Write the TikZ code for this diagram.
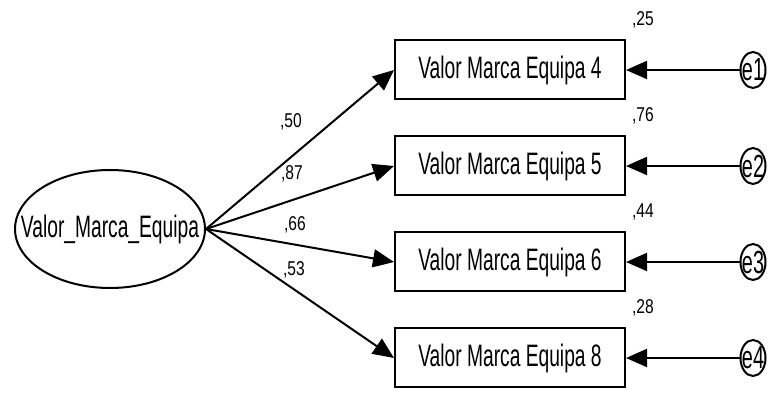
\documentclass[tikz,border=0pt]{standalone}
\usepackage{fontspec}
\usetikzlibrary{positioning,arrows.meta,shapes.geometric}
\newfontfamily\amosfont[FakeStretch=0.62]{Liberation Sans}
\newfontfamily\amossmall[FakeStretch=0.78]{Liberation Sans}

\begin{document}
\begin{tikzpicture}
  [x=1pt,y=1pt,line width=2pt,every node/.style={inner sep=0pt},
   latent/.style={ellipse,draw,minimum width=190pt,minimum height=118pt,
     font=\amosfont\fontsize{31}{31}\selectfont},
   observed/.style={rectangle,draw,minimum width=230pt,minimum height=59pt,
     font=\amosfont\fontsize{31}{31}\selectfont},
   err/.style={ellipse,draw,minimum width=25pt,minimum height=36pt,
     font=\amosfont\fontsize{32}{32}\selectfont},
   coef/.style={font=\amossmall\fontsize{20}{20}\selectfont},
   regr/.style={-{Triangle[length=21pt,width=18pt]}}]
  \useasboundingbox (0,0) rectangle (778,393);

  \node[latent] (vme) at (110,164) {\makebox[0pt]{Valor\_Marca\_Equipa}};

  \node[observed] (v4) at (510,323) {Valor Marca Equipa 4};
  \node[observed] (v5) at (510,227) {Valor Marca Equipa 5};
  \node[observed] (v6) at (510,131) {Valor Marca Equipa 6};
  \node[observed] (v8) at (510,35)  {Valor Marca Equipa 8};

  \node[err] (e1) at (753,323) {\makebox[0pt]{e1}};
  \node[err] (e2) at (753,227) {\makebox[0pt]{e2}};
  \node[err] (e3) at (753,131) {\makebox[0pt]{e3}};
  \node[err] (e4) at (753,35)  {\makebox[0pt]{e4}};

  % squared multiple correlations
  \node[coef,above right=10pt and 5pt of v4.north east] (r4) {,25};
  \node[coef,above right=10pt and 5pt of v5.north east] (r5) {,76};
  \node[coef,above right=10pt and 5pt of v6.north east] (r6) {,44};
  \node[coef,above right=10pt and 5pt of v8.north east] (r8) {,28};

  % standardized loadings
  \node[coef] (l4) at (291,271) {,50};
  \node[coef] (l5) at (292,219) {,87};
  \node[coef] (l6) at (295,168) {,66};
  \node[coef] (l8) at (294,123) {,53};

  \foreach \v in {v4,v5,v6,v8}
    \draw[regr] (vme.east) -- (\v.west);
  \foreach \e/\v in {e1/v4,e2/v5,e3/v6,e4/v8}
    \draw[regr] (\e) -- (\v.east);
\end{tikzpicture}
\end{document}
